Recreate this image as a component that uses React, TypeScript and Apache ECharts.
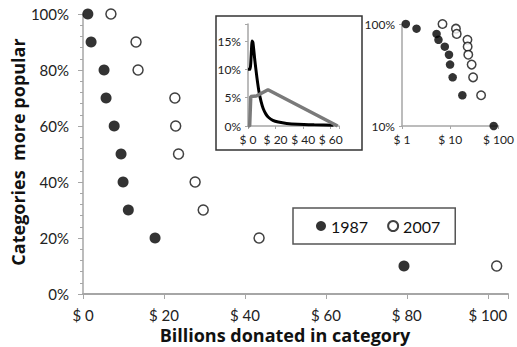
import React, { useEffect, useRef } from "react";
import * as echarts from "echarts";

const ranks = [100, 90, 80, 70, 60, 50, 40, 30, 20, 10];
const dollars1987 = [1.2, 2.0, 5.2, 5.7, 7.7, 9.4, 9.9, 11.2, 17.8, 79.3];
const dollars2007 = [6.9, 13.1, 13.6, 22.7, 22.9, 23.6, 27.7, 29.7, 43.5, 102.2];

const blackDistX = [0, 1.5, 3, 3.6, 5, 6.5, 8, 9.5, 11, 13, 15, 18, 22, 28, 36, 48, 62];
const blackDistY = [10, 10, 15, 14.7, 11.5, 8.5, 6, 4.3, 3.1, 2.1, 1.5, 1, 0.7, 0.45, 0.3, 0.2, 0.12];
const grayDistX = [0, 1.2, 2, 6, 14.5, 65];
const grayDistY = [0, 0, 5.2, 5.3, 6.4, 0];

const mainXTicks = [0, 20, 40, 60, 80, 100];
const insetXTicks = [0, 20, 40, 60];
const insetYTicks = [0, 5, 10, 15];

const FONT = "Lato, 'Open Sans', sans-serif";
const TITLE_FONT = "'Open Sans', Lato, sans-serif";

function zip(xs: number[], ys: number[]) {
  return xs.map((x, i) => [x, ys[i]]);
}

export default function App() {
  const ref = useRef<HTMLDivElement>(null);
  useEffect(() => {
    if (!ref.current) return;
    const chart = echarts.init(ref.current, null, { renderer: "svg" });
    const axisGray = "#a6a6a6";
    const option: any = {
      animation: false,
      backgroundColor: "#fff",
      textStyle: { fontFamily: FONT },
      legend: {
        left: 293,
        top: 208,
        orient: "horizontal",
        data: ["1987", "2007"],
        borderColor: "#555",
        borderWidth: 1.5,
        padding: [10, 15, 10, 23],
        itemWidth: 10,
        itemHeight: 10,
        itemGap: 19,
        textStyle: { fontFamily: FONT, fontSize: 16, color: "#111" },
      },
      grid: [
        { left: 83, top: 14, width: 425, height: 280, containLabel: false },
        { left: 248, top: 24, width: 91, height: 102, containLabel: false },
        { left: 402, top: 24, width: 102, height: 102, containLabel: false },
      ],
      xAxis: [
        {
          gridIndex: 0,
          type: "value",
          min: 0,
          max: 105,
          interval: 20,
          axisLine: { lineStyle: { color: axisGray, width: 2 } },
          axisTick: { show: true, length: 5, lineStyle: { color: axisGray } },
          splitLine: { show: false },
          axisLabel: {
            margin: 13,
            fontSize: 15,
            color: "#222",
            fontFamily: FONT,
            formatter: (v: number) => (mainXTicks.includes(v) ? "$ " + v : ""),
          },
        },
        {
          gridIndex: 1,
          type: "value",
          min: 0,
          max: 66,
          interval: 20,
          axisLine: { lineStyle: { color: axisGray, width: 1.5 } },
          axisTick: { show: true, length: 3, lineStyle: { color: axisGray } },
          splitLine: { show: false },
          axisLabel: {
            margin: 7,
            fontSize: 12,
            color: "#222",
            fontFamily: FONT,
            formatter: (v: number) => (insetXTicks.includes(v) ? "$ " + v : ""),
          },
        },
        {
          gridIndex: 2,
          type: "log",
          logBase: 10,
          min: 1,
          max: 100,
          axisLine: { lineStyle: { color: axisGray, width: 1.5 } },
          axisTick: { show: true, length: 3, lineStyle: { color: axisGray } },
          splitLine: { show: false },
          axisLabel: {
            margin: 7,
            fontSize: 12,
            color: "#222",
            fontFamily: FONT,
            formatter: (v: number) => "$ " + v,
          },
        },
      ],
      yAxis: [
        {
          gridIndex: 0,
          type: "value",
          min: 0,
          max: 100,
          interval: 20,
          axisLine: { show: true, lineStyle: { color: axisGray, width: 1.5 } },
          axisTick: { show: true, length: 5, lineStyle: { color: axisGray } },
          minorTick: { show: true, splitNumber: 5, length: 3, lineStyle: { color: axisGray } },
          splitLine: { show: false },
          axisLabel: {
            margin: 14,
            fontSize: 15,
            color: "#222",
            fontFamily: FONT,
            formatter: "{value}%",
          },
        },
        {
          gridIndex: 1,
          type: "value",
          min: 0,
          max: 18,
          interval: 5,
          axisLine: { show: true, lineStyle: { color: axisGray, width: 1.5 } },
          axisTick: { show: true, length: 3, lineStyle: { color: axisGray } },
          splitLine: { show: false },
          axisLabel: {
            margin: 7,
            fontSize: 12,
            color: "#222",
            fontFamily: FONT,
            formatter: (v: number) => (insetYTicks.includes(v) ? v + "%" : ""),
          },
        },
        {
          gridIndex: 2,
          type: "log",
          logBase: 10,
          min: 10,
          max: 100,
          axisLine: { show: true, lineStyle: { color: axisGray, width: 1.5 } },
          axisTick: { show: true, length: 3, lineStyle: { color: axisGray } },
          splitLine: { show: false },
          axisLabel: {
            margin: 7,
            fontSize: 12,
            color: "#222",
            fontFamily: FONT,
            formatter: (v: number) => v + "%",
          },
        },
      ],
      series: [
        {
          name: "1987",
          type: "scatter",
          xAxisIndex: 0,
          yAxisIndex: 0,
          data: zip(dollars1987, ranks),
          symbol: "circle",
          symbolSize: 11,
          itemStyle: { color: "#000" },
        },
        {
          name: "2007",
          type: "scatter",
          xAxisIndex: 0,
          yAxisIndex: 0,
          data: zip(dollars2007, ranks),
          symbol: "circle",
          symbolSize: 10,
          itemStyle: { color: "#fff", borderColor: "#111", borderWidth: 1.5 },
        },
        {
          name: "dist1987",
          type: "line",
          xAxisIndex: 1,
          yAxisIndex: 1,
          data: zip(blackDistX, blackDistY),
          smooth: 0.2,
          showSymbol: false,
          lineStyle: { color: "#000", width: 3 },
        },
        {
          name: "dist2007",
          type: "line",
          xAxisIndex: 1,
          yAxisIndex: 1,
          data: zip(grayDistX, grayDistY),
          showSymbol: false,
          lineStyle: { color: "#7a7a7a", width: 3.5 },
        },
        {
          name: "log1987",
          type: "scatter",
          xAxisIndex: 2,
          yAxisIndex: 2,
          data: zip(dollars1987, ranks),
          symbolSize: 8.5,
          itemStyle: { color: "#000" },
        },
        {
          name: "log2007",
          type: "scatter",
          xAxisIndex: 2,
          yAxisIndex: 2,
          data: zip(dollars2007, ranks),
          symbolSize: 8.5,
          itemStyle: { color: "#fff", borderColor: "#111", borderWidth: 1.5 },
        },
      ],
      graphic: [
        {
          type: "rect",
          shape: { x: 216, y: 16, width: 146, height: 134 },
          style: { fill: "none", stroke: "#333", lineWidth: 1.5 },
          silent: true,
        },
        {
          type: "text",
          x: 18,
          y: 152,
          rotation: Math.PI / 2,
          style: {
            text: "Categories  more popular",
            font: "bold 18px " + TITLE_FONT,
            fill: "#111",
            align: "center",
            verticalAlign: "middle",
          },
        },
        {
          type: "text",
          x: 285,
          y: 335,
          style: {
            text: "Billions donated in category",
            font: "bold 18px " + TITLE_FONT,
            fill: "#111",
            align: "center",
            verticalAlign: "middle",
          },
        },
      ],
    };
    chart.setOption(option);
    return () => chart.dispose();
  }, []);
  return (
    <div
      ref={ref}
      style={{ position: "absolute", left: 0, top: 0, width: 517, height: 347 }}
    />
  );
}
